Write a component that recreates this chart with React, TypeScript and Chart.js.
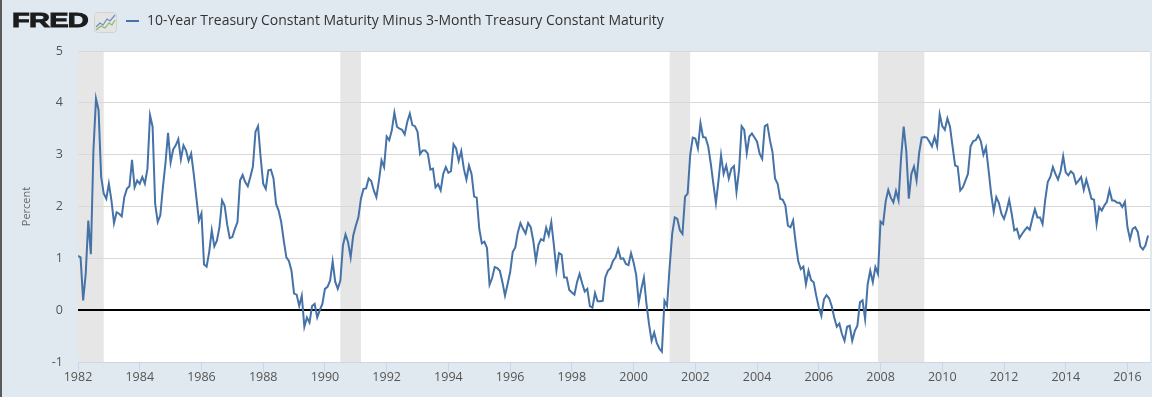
import React, { useEffect, useRef } from "react";
import { Chart, registerables } from "chart.js";

Chart.register(...registerables);

const START_YEAR = 1982;
const seriesLabel =
  "10-Year Treasury Constant Maturity Minus 3-Month Treasury Constant Maturity";
const yAxisTitle = "Percent";

// Monthly spread values (percent), Jan 1982 .. Sep 2016
const spread = [
  // 1982
  1.05, 1.02, 0.19, 0.7, 1.73, 1.08, 3.08, 4.08, 3.86, 2.57, 2.25, 2.15,
  // 1983
  2.44, 2.12, 1.68, 1.89, 1.86, 1.81, 2.18, 2.34, 2.39, 2.9, 2.37, 2.5,
  // 1984
  2.44, 2.57, 2.44, 2.73, 3.76, 3.54, 2.05, 1.7, 1.83, 2.37, 2.83, 3.42,
  // 1985
  2.85, 3.1, 3.18, 3.3, 2.91, 3.18, 3.08, 2.88, 3.02, 2.63, 2.18, 1.73,
  // 1986
  1.87, 0.88, 0.84, 1.12, 1.54, 1.23, 1.34, 1.6, 2.12, 2.02, 1.65, 1.39,
  // 1987
  1.41, 1.57, 1.7, 2.5, 2.61, 2.47, 2.39, 2.57, 2.77, 3.44, 3.55, 2.95,
  // 1988
  2.44, 2.34, 2.7, 2.71, 2.54, 2.05, 1.92, 1.7, 1.34, 1.02, 0.95, 0.76,
  // 1989
  0.32, 0.3, 0.08, 0.28, -0.32, -0.14, -0.24, 0.08, 0.12, -0.14, 0.0, 0.12,
  // 1990
  0.41, 0.45, 0.57, 0.94, 0.55, 0.41, 0.57, 1.25, 1.46, 1.31, 1.02, 1.44,
  // 1991
  1.63, 1.79, 2.15, 2.34, 2.35, 2.54, 2.49, 2.31, 2.18, 2.5, 2.89, 2.76,
  // 1992
  3.35, 3.28, 3.47, 3.81, 3.54, 3.5, 3.48, 3.39, 3.63, 3.79, 3.57, 3.55,
  // 1993
  3.44, 3.01, 3.08, 3.08, 3.02, 2.71, 2.73, 2.37, 2.43, 2.31, 2.63, 2.76,
  // 1994
  2.65, 2.68, 3.2, 3.12, 2.88, 3.07, 2.73, 2.52, 2.79, 2.63, 2.19, 2.17,
  // 1995
  1.57, 1.29, 1.32, 1.2, 0.49, 0.62, 0.83, 0.81, 0.76, 0.54, 0.28, 0.5,
  // 1996
  0.73, 1.12, 1.21, 1.5, 1.68, 1.57, 1.48, 1.68, 1.6, 1.34, 0.95, 1.26,
  // 1997
  1.37, 1.34, 1.59, 1.44, 1.7, 1.26, 0.77, 1.1, 1.07, 0.63, 0.63, 0.39,
  // 1998
  0.34, 0.3, 0.54, 0.7, 0.52, 0.36, 0.41, 0.08, 0.05, 0.33, 0.17, 0.17,
  // 1999
  0.18, 0.63, 0.76, 0.81, 0.95, 1.02, 1.18, 0.99, 1.0, 0.89, 0.87, 1.1,
  // 2000
  0.92, 0.68, 0.15, 0.41, 0.63, 0.12, -0.27, -0.59, -0.43, -0.63, -0.74, -0.8,
  // 2001
  0.18, 0.08, 0.83, 1.47, 1.79, 1.76, 1.54, 1.47, 2.19, 2.25, 2.99, 3.33,
  // 2002
  3.31, 3.12, 3.61, 3.34, 3.33, 3.16, 2.83, 2.44, 2.07, 2.5, 2.99, 2.63,
  // 2003
  2.79, 2.54, 2.73, 2.78, 2.28, 2.7, 3.55, 3.48, 3.03, 3.35, 3.41, 3.33,
  // 2004
  3.25, 3.02, 2.92, 3.55, 3.58, 3.28, 3.05, 2.54, 2.44, 2.15, 2.13, 2.02,
  // 2005
  1.63, 1.6, 1.73, 1.31, 0.95, 0.79, 0.84, 0.5, 0.76, 0.58, 0.54, 0.28,
  // 2006
  0.05, -0.11, 0.21, 0.29, 0.23, 0.08, -0.14, -0.32, -0.26, -0.46, -0.59, -0.32,
  // 2007
  -0.3, -0.59, -0.4, -0.3, 0.15, 0.19, -0.17, 0.5, 0.76, 0.54, 0.83, 0.7,
  // 2008
  1.71, 1.66, 2.1, 2.32, 2.17, 2.08, 2.3, 2.12, 2.95, 3.54, 3.08, 2.15,
  // 2009
  2.63, 2.77, 2.5, 3.03, 3.33, 3.34, 3.33, 3.25, 3.16, 3.34, 3.16, 3.78,
  // 2010
  3.55, 3.48, 3.7, 3.54, 3.16, 2.79, 2.77, 2.31, 2.37, 2.5, 2.63, 3.16,
  // 2011
  3.26, 3.28, 3.37, 3.26, 3.0, 3.14, 2.7, 2.25, 1.9, 2.18, 2.07, 1.86,
  // 2012
  1.76, 1.92, 2.13, 1.86, 1.54, 1.57, 1.39, 1.47, 1.54, 1.6, 1.55, 1.76,
  // 2013
  1.95, 1.79, 1.79, 1.66, 2.12, 2.47, 2.57, 2.76, 2.63, 2.52, 2.68, 2.97,
  // 2014
  2.66, 2.6, 2.68, 2.63, 2.44, 2.5, 2.57, 2.32, 2.52, 2.34, 2.15, 2.13,
  // 2015
  1.66, 1.99, 1.92, 2.02, 2.09, 2.32, 2.12, 2.11, 2.07, 2.07, 1.99, 2.09,
  // 2016
  1.6, 1.37, 1.57, 1.6, 1.51, 1.23, 1.17, 1.25, 1.44,
];

// Recession periods (decimal years): start, end
const recessionStarts = [1982.0, 1990.5, 2001.167, 2007.917];
const recessionEnds = [1982.833, 1991.167, 2001.833, 2009.417];

const yTicks = [-1, 0, 1, 2, 3, 4, 5];
const xTickYears = [
  1982, 1984, 1986, 1988, 1990, 1992, 1994, 1996, 1998, 2000, 2002, 2004,
  2006, 2008, 2010, 2012, 2014, 2016,
];
const X_MIN = 1982;
const X_MAX = 2016.73;

const FONT = "'Open Sans', 'DejaVu Sans', sans-serif";

export default function App() {
  const ref = useRef<HTMLCanvasElement | null>(null);

  useEffect(() => {
    document.body.style.margin = "0";
    const canvas = ref.current;
    if (!canvas) return;
    const points = spread.map((v, i) => ({ x: START_YEAR + i / 12, y: v }));

    const bandsPlugin = {
      id: "recessionBands",
      beforeDraw(chart: any) {
        const { ctx, chartArea: a, scales } = chart;
        const xs = scales.x;
        ctx.save();
        ctx.fillStyle = "#ffffff";
        ctx.fillRect(a.left, a.top, a.right - a.left, a.bottom - a.top);
        ctx.fillStyle = "#e6e6e6";
        recessionStarts.forEach((s, i) => {
          const x0 = Math.max(a.left, xs.getPixelForValue(s));
          const x1 = Math.min(a.right, xs.getPixelForValue(recessionEnds[i]));
          ctx.fillRect(x0, a.top, x1 - x0, a.bottom - a.top);
        });
        ctx.restore();
      },
    };

    const chart = new Chart(canvas, {
      type: "line",
      data: {
        datasets: [
          {
            label: seriesLabel,
            data: points,
            borderColor: "#4572a7",
            borderWidth: 2,
            pointRadius: 0,
            tension: 0,
            fill: false,
          },
        ],
      },
      options: {
        animation: false,
        responsive: false,
        maintainAspectRatio: false,
        layout: { padding: { top: 51, right: 2, left: 0, bottom: 0 } },
        plugins: {
          legend: { display: false },
          tooltip: { enabled: false },
        },
        scales: {
          x: {
            type: "linear",
            min: X_MIN,
            max: X_MAX,
            afterBuildTicks: (s: any) => {
              s.ticks = xTickYears.map((v) => ({ value: v }));
            },
            afterFit: (s: any) => {
              s.height = 35;
            },
            grid: {
              drawOnChartArea: false,
              drawTicks: true,
              tickLength: 10,
              color: "#ccd6eb",
            },
            border: { display: true, color: "#ccd6eb", width: 1 },
            ticks: {
              padding: -2,
              color: "#555555",
              font: { family: FONT, size: 12.5 },
              maxRotation: 0,
              autoSkip: false,
              callback: (v: any) => String(v),
            },
          },
          y: {
            min: -1,
            max: 5,
            afterBuildTicks: (s: any) => {
              s.ticks = yTicks.map((v) => ({ value: v }));
            },
            afterFit: (s: any) => {
              s.width = 78;
            },
            grid: {
              color: (c: any) => (c.tick && c.tick.value === 0 ? "#000000" : "#d8d8d8"),
              lineWidth: (c: any) => (c.tick && c.tick.value === 0 ? 2 : 1),
              drawTicks: false,
            },
            border: { display: false },
            ticks: {
              padding: 15,
              color: "#555555",
              font: { family: FONT, size: 12.5 },
              callback: (v: any) => String(v),
            },
            title: {
              display: true,
              text: yAxisTitle,
              color: "#666666",
              font: { family: FONT, size: 11 },
              padding: { top: 20, bottom: 0 },
            },
          },
        },
      },
      plugins: [bandsPlugin],
    });

    return () => chart.destroy();
  }, []);

  return (
    <div
      style={{
        position: "absolute",
        left: 0,
        top: 0,
        width: 1152,
        height: 397,
        background: "#e1e9f0",
        overflow: "hidden",
      }}
    >
      <div
        style={{
          position: "absolute",
          left: 0,
          top: 0,
          width: 2,
          height: 397,
          background: "#5a5a5a",
        }}
      />
      <canvas
        ref={ref}
        width={1152}
        height={397}
        style={{ position: "absolute", left: 0, top: 0, width: 1152, height: 397 }}
      />
      <span
        style={{
          position: "absolute",
          left: 12,
          top: 10,
          fontFamily: "'Liberation Sans', Arial, sans-serif",
          fontWeight: 700,
          fontSize: 20,
          lineHeight: "20px",
          letterSpacing: -0.5,
          color: "#1c1c1c",
          display: "inline-block",
          transform: "scaleX(1.45)",
          transformOrigin: "left top",
          WebkitTextStroke: "0.9px #1c1c1c",
          whiteSpace: "nowrap",
        }}
      >
        FRED
      </span>
      <svg
        width="23"
        height="21"
        style={{ position: "absolute", left: 94, top: 12 }}
      >
        <rect x="0.5" y="0.5" width="22" height="20" rx="3" fill="#e4e4e4" stroke="#d2d2d2" />
        <polyline
          points="2,15 6,11 9,13 13,7 16,9 21,3"
          fill="none"
          stroke="#6a8fbf"
          strokeWidth="1.2"
        />
        <polyline
          points="2,18 7,14 11,16 15,11 18,13 21,8"
          fill="none"
          stroke="#8cb867"
          strokeWidth="1.2"
        />
      </svg>
      <div
        style={{
          position: "absolute",
          left: 126,
          top: 20,
          width: 13,
          height: 2,
          background: "#4572a7",
        }}
      />
      <div
        style={{
          position: "absolute",
          left: 147,
          top: 11,
          fontFamily: FONT,
          fontSize: 14,
          lineHeight: "18px",
          color: "#333333",
          whiteSpace: "nowrap",
        }}
      >
        {seriesLabel}
      </div>
    </div>
  );
}
